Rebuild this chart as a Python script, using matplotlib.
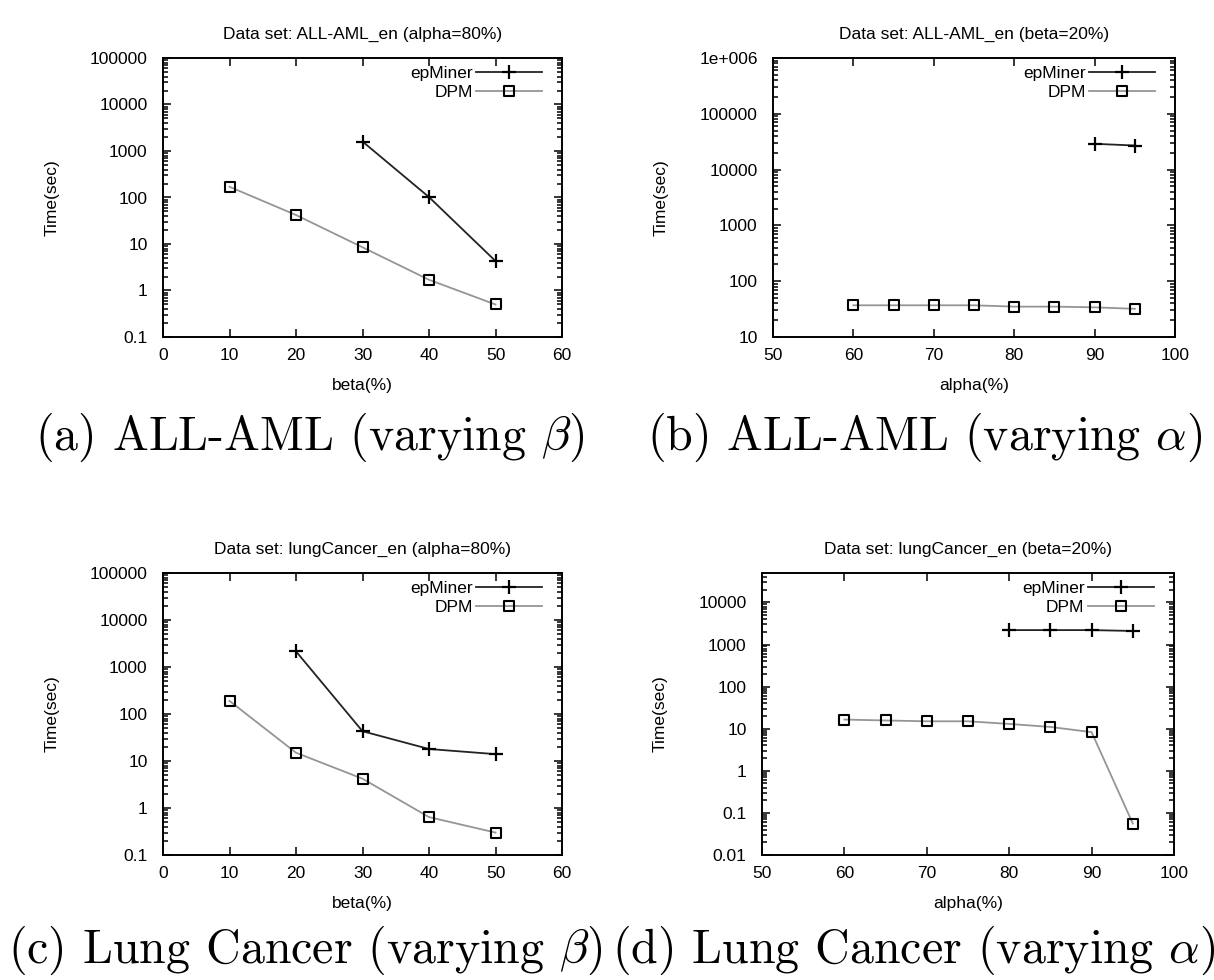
import numpy as np
import matplotlib
matplotlib.use("Agg")
import matplotlib.pyplot as plt
from matplotlib.path import Path
from matplotlib.ticker import FixedLocator, FixedFormatter, LogLocator, NullFormatter

plt.rcParams["font.family"] = "Liberation Sans"
plt.rcParams["mathtext.fontset"] = "cm"

# (a) ALL-AML, varying beta (alpha=80%)
a_beta_ep = [30, 40, 50]
a_time_ep = [1600, 102, 4.3]
a_beta_dpm = [10, 20, 30, 40, 50]
a_time_dpm = [170, 42, 8.5, 1.7, 0.5]

# (b) ALL-AML, varying alpha (beta=20%)
b_alpha_ep = [90, 95]
b_time_ep = [29000, 27000]
b_alpha_dpm = [60, 65, 70, 75, 80, 85, 90, 95]
b_time_dpm = [37, 37, 37, 37, 35, 35, 34, 32]

# (c) lungCancer, varying beta (alpha=80%)
c_beta_ep = [20, 30, 40, 50]
c_time_ep = [2150, 43, 18, 14]
c_beta_dpm = [10, 20, 30, 40, 50]
c_time_dpm = [190, 15, 4.2, 0.64, 0.30]

# (d) lungCancer, varying alpha (beta=20%)
d_alpha_ep = [80, 85, 90, 95]
d_time_ep = [2200, 2200, 2200, 2100]
d_alpha_dpm = [60, 65, 70, 75, 80, 85, 90, 95]
d_time_dpm = [16.5, 15.7, 15, 15, 13, 11, 8.3, 0.056]

titles = ["Data set: ALL-AML_en (alpha=80%)", "Data set: ALL-AML_en (beta=20%)",
          "Data set: lungCancer_en (alpha=80%)", "Data set: lungCancer_en (beta=20%)"]
captions = [r"(a) ALL-AML (varying $\beta$)", r"(b) ALL-AML (varying $\alpha$)",
            r"(c) Lung Cancer (varying $\beta$)", r"(d) Lung Cancer (varying $\alpha$)"]

W, H = 1214, 980
fig = plt.figure(figsize=(W / 100, H / 100), dpi=100)

def rect(l, r, t, b):
    return [l / W, 1 - b / H, (r - l) / W, (b - t) / H]

# gnuplot style box with a dot in the middle
box = Path([(-1, -1), (1, -1), (1, 1), (-1, 1), (-1, -1),
            (-0.08, -0.08), (0.08, -0.08), (0.08, 0.08), (-0.08, 0.08), (-0.08, -0.08)],
           [Path.MOVETO, Path.LINETO, Path.LINETO, Path.LINETO, Path.CLOSEPOLY] * 2)

panels = [
    dict(rect=rect(163, 562, 58, 337), x_ep=a_beta_ep, y_ep=a_time_ep, x_dpm=a_beta_dpm, y_dpm=a_time_dpm,
         xlim=(0, 60), ylim=(0.1, 100000), xlabel="beta(%)",
         yticks=[0.1, 1, 10, 100, 1000, 10000, 100000],
         ylabels=["0.1", "1", "10", "100", "1000", "10000", "100000"], ylab_x=-0.26),
    dict(rect=rect(773, 1175, 58, 337), x_ep=b_alpha_ep, y_ep=b_time_ep, x_dpm=b_alpha_dpm, y_dpm=b_time_dpm,
         xlim=(50, 100), ylim=(10, 1e6), xlabel="alpha(%)",
         yticks=[10, 100, 1000, 10000, 100000, 1e6],
         ylabels=["10", "100", "1000", "10000", "100000", "1e+006"], ylab_x=-0.26),
    dict(rect=rect(163, 562, 573, 855), x_ep=c_beta_ep, y_ep=c_time_ep, x_dpm=c_beta_dpm, y_dpm=c_time_dpm,
         xlim=(0, 60), ylim=(0.1, 100000), xlabel="beta(%)",
         yticks=[0.1, 1, 10, 100, 1000, 10000, 100000],
         ylabels=["0.1", "1", "10", "100", "1000", "10000", "100000"], ylab_x=-0.26),
    dict(rect=rect(762, 1174, 573, 855), x_ep=d_alpha_ep, y_ep=d_time_ep, x_dpm=d_alpha_dpm, y_dpm=d_time_dpm,
         xlim=(50, 100), ylim=(0.01, 50000), xlabel="alpha(%)",
         yticks=[0.01, 0.1, 1, 10, 100, 1000, 10000],
         ylabels=["0.01", "0.1", "1", "10", "100", "1000", "10000"], ylab_x=-0.228),
]

fs = 12.5
for i, p in enumerate(panels):
    ax = fig.add_axes(p["rect"])
    ax.plot(p["x_ep"], p["y_ep"], color="#222222", lw=1.3, marker="+", ms=9.5, mew=1.6,
            mec="black", label="epMiner")
    ax.plot(p["x_dpm"], p["y_dpm"], color="#959595", lw=1.3, marker=box, ms=7.5, mew=1.5,
            mec="black", mfc="none", label="DPM")
    ax.set_yscale("log")
    ax.set_xlim(*p["xlim"])
    ax.set_ylim(*p["ylim"])
    ax.set_xticks(np.arange(p["xlim"][0], p["xlim"][1] + 1, 10))
    ax.yaxis.set_major_locator(FixedLocator(p["yticks"]))
    ax.yaxis.set_major_formatter(FixedFormatter(p["ylabels"]))
    ax.yaxis.set_minor_locator(LogLocator(base=10, subs=np.arange(2, 10), numticks=20))
    ax.yaxis.set_minor_formatter(NullFormatter())
    ax.tick_params(which="both", direction="in", top=True, right=True, width=1.1)
    ax.tick_params(which="major", length=6)
    ax.tick_params(which="minor", length=3.5)
    ax.tick_params(axis="x", pad=8, labelsize=fs)
    ax.tick_params(axis="y", pad=11, labelsize=fs)
    for s in ax.spines.values():
        s.set_linewidth(1.4)
    ax.set_title(titles[i], fontsize=fs, pad=14)
    ax.set_xlabel(p["xlabel"], fontsize=fs, labelpad=11)
    ax.set_ylabel("Time(sec)", fontsize=fs)
    ax.yaxis.set_label_coords(p["ylab_x"], 0.5)
    ax.legend(loc="upper right", bbox_to_anchor=(0.97, 1.0), frameon=False,
              markerfirst=False, fontsize=fs, handlelength=3.8, handletextpad=0.2,
              labelspacing=0.2, borderaxespad=0.25, borderpad=0.2)

cap_x = [35, 647, 8, 612]
cap_y = [437, 437, 950, 950]
for i, c in enumerate(captions):
    fig.text(cap_x[i] / W, 1 - cap_y[i] / H, c, family="cmr10", fontsize=34.5,
             ha="left", va="center")

fig.savefig("out.png", dpi=100)
